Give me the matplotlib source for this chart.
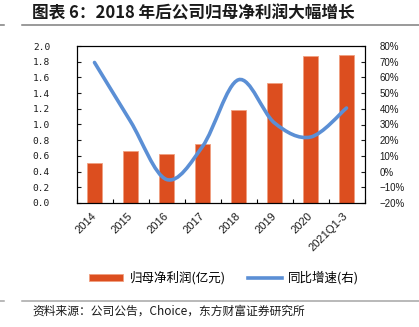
import numpy as np
import matplotlib.pyplot as plt
from matplotlib.path import Path
from matplotlib.patches import PathPatch
from matplotlib.ticker import FuncFormatter, MultipleLocator

plt.rcParams['font.family'] = ['Noto Sans CJK SC', 'DejaVu Sans']

# Data
years = ['2014', '2015', '2016', '2017', '2018', '2019', '2020', '2021Q1-3']
profit = [0.51, 0.66, 0.62, 0.75, 1.18, 1.53, 1.87, 1.88]
growth = [69.5, 32.0, -5.0, 16.0, 58.5, 31.0, 22.0, 40.5]

bar_color = '#DC4E1F'
line_color = '#5B8FD5'
text_color = '#1A1A1A'

fig = plt.figure(figsize=(4.19, 3.27), dpi=100)
ax = fig.add_axes([76.5 / 419, 1 - 203 / 327, 288 / 419, 157 / 327])
x = np.arange(len(years))

ax.bar(x, profit, width=0.41, color=bar_color, edgecolor='#F0A080', linewidth=0.6,
       label='归母净利润(亿元)', zorder=2)
ax.set_ylim(0, 2.0)
ax.set_xlim(-0.5, len(years) - 0.5)
ax.yaxis.set_major_locator(MultipleLocator(0.2))
ax.yaxis.set_major_formatter(FuncFormatter(lambda v, p: f'{v:.1f}'))
ax.set_xticks(x)
ax.set_xticklabels(years, rotation=45, ha='right', va='center', rotation_mode='anchor',
                   family=['Liberation Sans'], fontsize=8)
ax.set_xticks(np.arange(-0.5, len(years)), minor=True)
ax.tick_params(axis='x', which='major', length=0, pad=8)
ax.tick_params(axis='x', which='minor', direction='in', length=3, width=0.8)
ax.tick_params(axis='y', direction='in', length=3, width=0.8, pad=19)
for t in ax.get_yticklabels():
    t.set_family(['DejaVu Sans Mono'])
    t.set_fontsize(6.8)

ax2 = ax.twinx()
ax2.set_ylim(-20, 80)
ax2.yaxis.set_major_locator(MultipleLocator(10))
ax2.yaxis.set_major_formatter(FuncFormatter(lambda v, p: f'{v:.0f}%'.replace('-', '−')))
ax2.tick_params(axis='y', direction='in', length=3, width=0.8, pad=11)
for t in ax2.get_yticklabels():
    t.set_family(['Liberation Sans', 'DejaVu Sans'])
    t.set_fontsize(7)

# smoothed line (Catmull-Rom style bezier through the data points)
pts = np.column_stack([x, growth]).astype(float)
verts = [tuple(pts[0])]
codes = [Path.MOVETO]
n = len(pts)
for i in range(n - 1):
    p0 = pts[i - 1] if i > 0 else pts[i]
    p1 = pts[i]
    p2 = pts[i + 1]
    p3 = pts[i + 2] if i + 2 < n else pts[i + 1]
    c1 = p1 + (p2 - p0) / 6.0
    c2 = p2 - (p3 - p1) / 6.0
    verts += [tuple(c1), tuple(c2), tuple(p2)]
    codes += [Path.CURVE4] * 3
ax2.add_patch(PathPatch(Path(verts, codes), fill=False, edgecolor=line_color,
                        linewidth=2.6, capstyle='round', zorder=3))
ax2.plot([], [], color=line_color, linewidth=2.6, label='同比增速(右)')

for a in (ax, ax2):
    for s in a.spines.values():
        s.set_linewidth(0.8)
        s.set_color('black')
    a.tick_params(colors=text_color)

h1, l1 = ax.get_legend_handles_labels()
h2, l2 = ax2.get_legend_handles_labels()
fig.legend(h1 + h2, l1 + l2, loc='center', bbox_to_anchor=(0.535, 1 - 278 / 327), ncol=2,
           frameon=False, fontsize=9, handlelength=2.7, handleheight=0.5,
           columnspacing=1.8, handletextpad=0.5)

# title and source
fig.text(32 / 419, 1 - 14 / 327, '图表 6：2018 年后公司归母净利润大幅增长', fontsize=12,
         fontweight='bold', color=text_color, va='center')
for yy, col in ((25, '#7F7F7F'), (301, '#A6A6A6')):
    yf = 1 - yy / 327
    fig.add_artist(plt.Line2D([22 / 419, 1.0], [yf, yf], color=col, linewidth=1.1))
    fig.add_artist(plt.Line2D([0, 4 / 419], [yf, yf], color=col, linewidth=1.1))
fig.text(32 / 419, 1 - 311 / 327, '资料来源：公司公告，Choice，东方财富证券研究所', fontsize=8.5,
         color=text_color, va='center')

fig.savefig('out.png', dpi=100)
